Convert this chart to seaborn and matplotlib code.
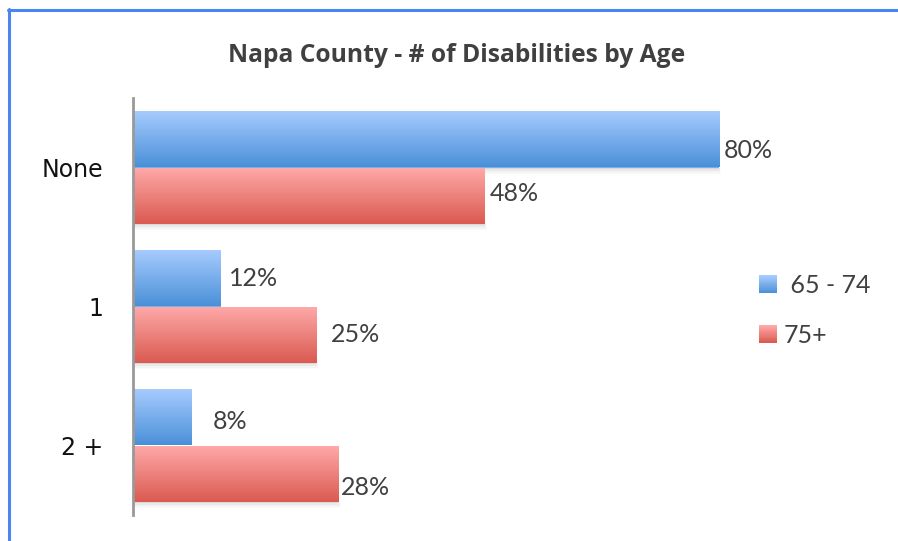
import numpy as np
import pandas as pd
import matplotlib
matplotlib.use("Agg")
import matplotlib.pyplot as plt
import seaborn as sns
from matplotlib.colors import LinearSegmentedColormap, to_rgb
from matplotlib.patches import Rectangle
from matplotlib.lines import Line2D
from matplotlib.legend_handler import HandlerBase

categories = ["None", "1", "2 +"]
groups = ["65 - 74", "75+"]
values_65_74 = [80, 12, 8]
values_75_plus = [48, 25, 28]
title = "Napa County - # of Disabilities by Age"

# label nudges (pixels) to follow the original's label placement
label_dx = {"65 - 74": [5, 8, 21], "75+": [5, 15, 3]}
label_dy = {"65 - 74": [-11, 0, -4.5], "75+": [2, 0.5, -13.5]}

df = pd.DataFrame({
    "category": categories * 2,
    "group": [groups[0]] * 3 + [groups[1]] * 3,
    "value": values_65_74 + values_75_plus,
})

sns.set_theme(style="white")
plt.rcParams["font.family"] = ["DejaVu Sans"]

fig = plt.figure(figsize=(8.98, 5.41), dpi=100)
ax = fig.add_axes([133/898, 1-515/541, (865.5-133)/898, (515-98)/541])

top_cols = {"65 - 74": "#a8ccff", "75+": "#ffaaaa"}
bot_cols = {"65 - 74": "#4a90d8", "75+": "#da5a50"}
mid_cols = {"65 - 74": "#7aaeea", "75+": "#ee8080"}

sns.barplot(data=df, x="value", y="category", hue="group", order=categories,
            hue_order=groups, orient="h", width=0.81, ax=ax,
            palette=[mid_cols[g] for g in groups], legend=False,
            linewidth=0, saturation=1)

grad = np.linspace(0, 1, 256).reshape(-1, 1)
for container, g in zip(ax.containers, groups):
    cmap = LinearSegmentedColormap.from_list(g, [top_cols[g], bot_cols[g]])
    for i, bar in enumerate(container):
        x0 = bar.get_x(); w = bar.get_width()
        y0 = bar.get_y(); h = bar.get_height()
        ytop, ybot = min(y0, y0 + h), max(y0, y0 + h)
        for k, a in enumerate([0.10, 0.07, 0.04, 0.02]):
            ax.add_patch(Rectangle((x0, ybot), w + 0.1 * k, 0.012 * (k + 1),
                                   facecolor="#555555", alpha=a, lw=0, zorder=1))
        im = ax.imshow(grad, cmap=cmap, aspect="auto", origin="upper",
                       extent=(x0, x0 + w, ybot, ytop), zorder=2)
        im.set_clip_path(bar)
        bar.set_zorder(2)
        v = container.datavalues[i]
        ax.annotate(f"{int(v)}%", xy=(x0 + w, (ytop + ybot) / 2),
                    xytext=(label_dx[g][i], label_dy[g][i]),
                    textcoords="offset pixels", ha="left", va="center",
                    fontsize=18, color="#404040", family=["Lato", "DejaVu Sans"])

ax.set_xlim(0, 100)
ax.set_ylim(2.5, -0.5)

ax.set_xlabel("")
ax.set_ylabel("")
ax.set_xticks([])
ax.tick_params(axis="y", length=0, pad=21.6, labelsize=17, labelcolor="#111111")
for s in ["top", "right", "bottom"]:
    ax.spines[s].set_visible(False)
ax.spines["left"].set_color("#999999")
ax.spines["left"].set_linewidth(2)


class GradientHandler(HandlerBase):
    def __init__(self, c_top, c_bot, n=20):
        super().__init__()
        self.c_top = np.array(to_rgb(c_top))
        self.c_bot = np.array(to_rgb(c_bot))
        self.n = n

    def create_artists(self, legend, orig_handle, xdescent, ydescent,
                       width, height, fontsize, trans):
        arts = []
        sh = height / self.n
        for j in range(self.n):
            t = j / (self.n - 1)
            col = self.c_bot * (1 - t) + self.c_top * t
            arts.append(Rectangle((-xdescent, -ydescent + j * sh), width, sh * 1.05,
                                  facecolor=col, lw=0, transform=trans))
        return arts


h1 = Rectangle((0, 0), 1, 1)
h2 = Rectangle((0, 0), 1, 1)
fig.legend([h1, h2], [" " + groups[0], groups[1]], loc="upper left",
           bbox_to_anchor=(759/898, 1-274/541), frameon=False,
           prop={"family": ["Lato", "DejaVu Sans"], "size": 18},
           handlelength=0.72, handleheight=0.72,
           handletextpad=0.28, labelspacing=1.07, borderaxespad=0, borderpad=0,
           labelcolor="#404040",
           handler_map={h1: GradientHandler(top_cols[groups[0]], bot_cols[groups[0]]),
                        h2: GradientHandler(top_cols[groups[1]], bot_cols[groups[1]])})

fig.text(457/898, 1-62/541, title, ha="center", va="baseline", fontsize=17.7,
         fontweight="bold", color="#404040", family=["Open Sans", "DejaVu Sans"])

fig.add_artist(Line2D([8/898, 1], [1-10/541, 1-10/541], color="#4a86f0", lw=2.2,
                      transform=fig.transFigure))
fig.add_artist(Line2D([9/898, 9/898], [0, 1-9/541], color="#4a86f0", lw=2.2,
                      transform=fig.transFigure))

fig.savefig("out.png", dpi=100)
